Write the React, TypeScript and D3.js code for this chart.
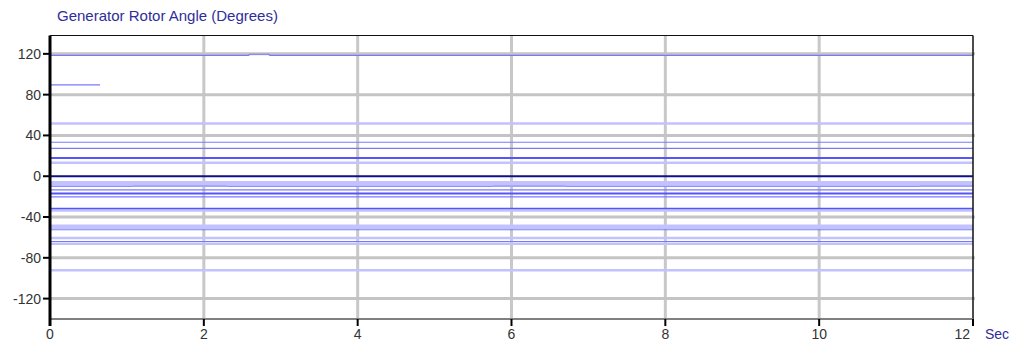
import React from "react";
import * as d3 from "d3";

// time axis (seconds) and angle ticks
const timeTicks = [0, 2, 4, 6, 8, 10, 12];
const angleTicks = [120, 80, 40, 0, -40, -80, -120];

// generator rotor angles that stay flat for the whole run (degrees)
const steadyAngles = [
  51.8, 33.3, 27.4, 17.9, 13.3, -5.8, -7.5, -9.3, -13.4, -17, -20.2,
  -32, -33.5, -48.6, -50.5, -52.5, -60.6, -64, -66.2, -92.3,
];
// line tone per steady angle: 0 light, 1 medium, 2 strong
const steadyTone = [0, 1, 1, 2, 0, 0, 0, 0, 1, 2, 1, 2, 0, 0, 0, 1, 0, 1, 0, 0];

// the one generator near 120 deg with a small hump
const humpTimes = [0, 2.58, 2.6, 2.84, 2.86, 12];
const humpAngles = [118.6, 118.6, 119.6, 119.6, 118.6, 118.6];

// short trace near 90 deg seen only at the start
const earlyTimes = [0, 0.65];
const earlyAngles = [89.5, 89.5];

// generator near -10 deg that flickers between two values
const flickTimes = [0, 1.07, 1.08, 2.3, 2.31, 5.75, 5.76, 6.7, 6.71, 11.3, 11.31, 12];
const flickAngles = [-10, -10, -9.6, -9.6, -10, -10, -9.6, -9.6, -10, -10, -9.6, -9.6];

const tones = [
  { stroke: "#c2c2ff", width: 2.5 },
  { stroke: "#7878ff", width: 1.2 },
  { stroke: "#5555ff", width: 2 },
];

const W = 1012, H = 343;
const left = 50, right = 973, top = 35.5, bottom = 319;

export default function App() {
  const x = d3.scaleLinear().domain([0, 12]).range([left, right]);
  const y = d3.scaleLinear().domain([-140, 138]).range([bottom, top]);
  const line = d3.line<[number, number]>().x(d => x(d[0])).y(d => y(d[1]));
  const pairs = (ts: number[], vs: number[]) => ts.map((t, i) => [t, vs[i]] as [number, number]);
  const font = "Arial, 'Liberation Sans', sans-serif";

  return (
    <svg width={W} height={H} style={{ position: "absolute", left: 0, top: 0, background: "#fff" }}>
      <text x={57} y={21} fontFamily={font} fontSize={15} fill="#2e2e9a">
        Generator Rotor Angle (Degrees)
      </text>

      {/* grid */}
      {timeTicks.slice(1, -1).map(t => (
        <line key={"vx" + t} x1={x(t)} x2={x(t)} y1={top} y2={bottom} stroke="#c8c8c8" strokeWidth={3} />
      ))}
      {angleTicks.filter(v => v !== 0).map(v => (
        <line key={"hy" + v} x1={left} x2={right + 2} y1={y(v)} y2={y(v)} stroke="#c4c4c4" strokeWidth={3} />
      ))}

      {/* rotor angle traces */}
      {steadyAngles.map((v, i) => {
        const t = tones[steadyTone[i]];
        return (
          <path key={"s" + i} d={line([[0, v], [12, v]]) || ""} fill="none"
            stroke={t.stroke} strokeWidth={t.width} />
        );
      })}
      <path d={line(pairs(humpTimes, humpAngles)) || ""} fill="none" stroke="#7878ff" strokeWidth={1.2} />
      <path d={line(pairs(earlyTimes, earlyAngles)) || ""} fill="none" stroke="#7878ff" strokeWidth={1.2} />
      <path d={line(pairs(flickTimes, flickAngles)) || ""} fill="none" stroke="#8a8aff" strokeWidth={1} />
      <line x1={left} x2={right} y1={y(0)} y2={y(0)} stroke="#10108a" strokeWidth={2} />

      {/* frame and axes */}
      <line x1={left} x2={right} y1={top} y2={top} stroke="#111" strokeWidth={1.2} />
      <line x1={right} x2={right} y1={top} y2={bottom + 7} stroke="#111" strokeWidth={1.5} />
      <line x1={left} x2={right} y1={bottom} y2={bottom} stroke="#808080" strokeWidth={2} />
      <line x1={left} x2={left} y1={top} y2={bottom + 7} stroke="#000" strokeWidth={3} />

      {angleTicks.map(v => (
        <g key={"ly" + v}>
          <line x1={left - 7} x2={left} y1={y(v)} y2={y(v)} stroke="#000" strokeWidth={2} />
          <text x={left - 9} y={y(v)} dy="0.35em" textAnchor="end" fontFamily={font}
            fontSize={14} fill="#333">{v}</text>
        </g>
      ))}
      {timeTicks.map(t => (
        <g key={"lx" + t}>
          <line x1={x(t)} x2={x(t)} y1={bottom} y2={bottom + 7} stroke="#000" strokeWidth={2} />
          <text x={x(t)} y={339} textAnchor={t === 12 ? "end" : "middle"} dx={t === 12 ? -3 : 0}
            fontFamily={font} fontSize={14} fill="#333">{t}</text>
        </g>
      ))}
      <text x={985} y={339} fontFamily={font} fontSize={14} fill="#2e2e9a">Sec</text>
    </svg>
  );
}
